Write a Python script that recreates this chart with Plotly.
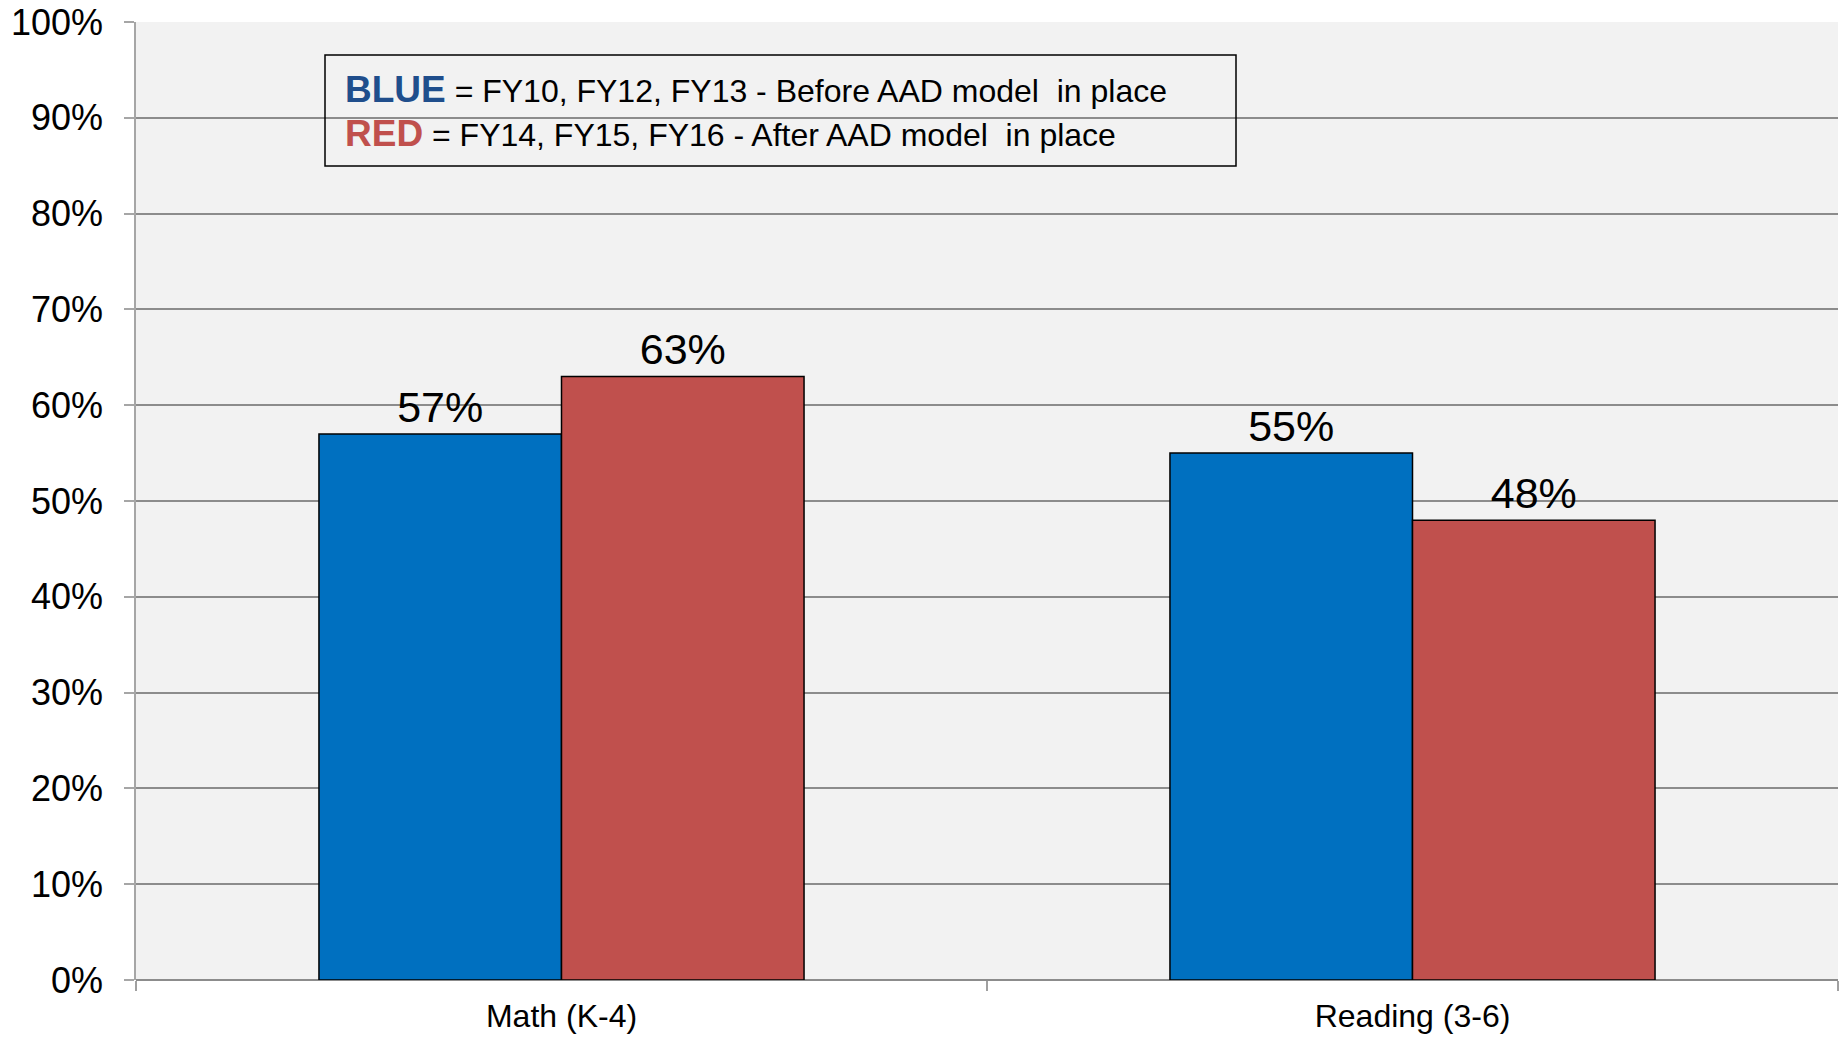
import plotly.graph_objects as go

# Chart data
categories = ["Math (K-4)", "Reading (3-6)"]
before_values = [0.57, 0.55]   # FY10, FY12, FY13
after_values = [0.63, 0.48]    # FY14, FY15, FY16
y_tick_values = [0, 0.1, 0.2, 0.3, 0.4, 0.5, 0.6, 0.7, 0.8, 0.9, 1.0]
y_tick_labels = ["0%", "10%", "20%", "30%", "40%", "50%", "60%", "70%", "80%", "90%", "100%"]

FONT = "Liberation Sans, Arial, sans-serif"
BLUE = "#0070C0"
RED = "#C0504D"

W, H = 1841, 1037
ML, MR, MT, MB = 136, 3, 22, 57
PW, PH = W - ML - MR, H - MT - MB


def px_x(x):
    return (x - ML) / PW


def px_y(y):
    return 1 - (y - MT) / PH


fig = go.Figure()
for name, vals, color in [("Before", before_values, BLUE), ("After", after_values, RED)]:
    fig.add_trace(go.Bar(
        x=categories, y=vals, name=name,
        marker=dict(color=color, line=dict(color="black", width=1.5)),
        text=[f"{round(v * 100)}%" for v in vals],
        textposition="outside",
        textfont=dict(family=FONT, size=43, color="black"),
        cliponaxis=False,
    ))

fig.update_layout(
    width=W, height=H,
    margin=dict(l=ML, r=MR, t=MT, b=MB),
    paper_bgcolor="white",
    plot_bgcolor="#F2F2F2",
    barmode="group",
    bargap=0.43,
    bargroupgap=0,
    showlegend=False,
    font=dict(family=FONT, color="black"),
)

fig.update_xaxes(
    showgrid=False,
    showline=False,
    ticks="outside", tickson="boundaries", ticklen=10, tickcolor="#A0A0A0", tickwidth=1.5,
    ticklabelstandoff=14,
    tickfont=dict(family=FONT, size=32, color="black"),
)
fig.update_yaxes(
    range=[0, 1],
    tickvals=y_tick_values, ticktext=y_tick_labels,
    tickfont=dict(family=FONT, size=36, color="black"),
    ticklabelstandoff=14,
    showgrid=True, gridcolor="#8C8C8C", gridwidth=2,
    zeroline=True, zerolinecolor="#8C8C8C", zerolinewidth=2,
    showline=True, linecolor="#A6A6A6", linewidth=1.5,
    ticks="outside", ticklen=10, tickcolor="#A6A6A6", tickwidth=1.5,
)

# Key box explaining the colours
fig.add_shape(
    type="rect", xref="paper", yref="paper",
    x0=px_x(325), x1=px_x(1236), y0=px_y(166), y1=px_y(55),
    line=dict(color="black", width=1.5), fillcolor="rgba(0,0,0,0)",
)
fig.add_annotation(
    xref="paper", yref="paper", x=px_x(343), y=px_y(89),
    xanchor="left", yanchor="middle", showarrow=False,
    text="<b><span style='color:#1F4E8C;font-size:37px'>BLUE</span></b> = FY10, FY12, FY13 - Before AAD model  in place",
    font=dict(family=FONT, size=32, color="black"),
)
fig.add_annotation(
    xref="paper", yref="paper", x=px_x(343), y=px_y(134),
    xanchor="left", yanchor="middle", showarrow=False,
    text="<b><span style='color:#C0504D;font-size:37px'>RED</span></b> = FY14, FY15, FY16 - After AAD model  in place",
    font=dict(family=FONT, size=32, color="black"),
)

fig.write_html("out.html")
